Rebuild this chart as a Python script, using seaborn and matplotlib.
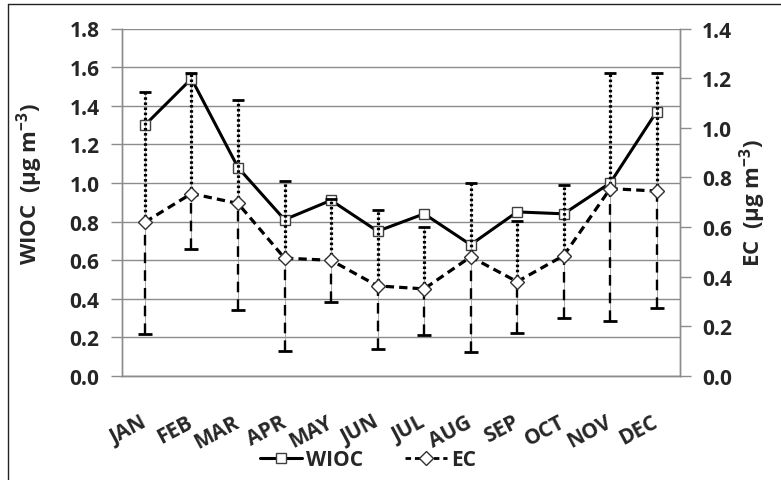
import numpy as np
import pandas as pd
import matplotlib
matplotlib.use("Agg")
import matplotlib.pyplot as plt
from matplotlib.lines import Line2D
import seaborn as sns

months = ["JAN", "FEB", "MAR", "APR", "MAY", "JUN", "JUL", "AUG", "SEP", "OCT", "NOV", "DEC"]
wioc = [1.30, 1.54, 1.08, 0.81, 0.91, 0.75, 0.84, 0.68, 0.85, 0.84, 1.00, 1.37]
ec = [0.62, 0.735, 0.695, 0.475, 0.466, 0.363, 0.351, 0.48, 0.38, 0.485, 0.755, 0.745]
ec_upper = [1.146, 1.220, 1.112, 0.784, 0.715, 0.668, 0.602, 0.779, 0.626, 0.771, 1.220, 1.220]
ec_lower = [0.170, 0.513, 0.264, 0.102, 0.299, 0.109, 0.166, 0.097, 0.174, 0.234, 0.223, 0.275]
left_ticks = [0.0, 0.2, 0.4, 0.6, 0.8, 1.0, 1.2, 1.4, 1.6, 1.8]
right_ticks = [0.0, 0.2, 0.4, 0.6, 0.8, 1.0, 1.2, 1.4]

sns.set_theme(style="white")
FAM = ["Open Sans", "DejaVu Sans"]
plt.rcParams["font.family"] = FAM
plt.rcParams["font.weight"] = "bold"
plt.rcParams["mathtext.fontset"] = "custom"
plt.rcParams["mathtext.rm"] = "Open Sans:bold"
plt.rcParams["mathtext.bf"] = "Open Sans:bold"
plt.rcParams["mathtext.it"] = "Open Sans:bold"

df = pd.DataFrame({"pos": np.arange(len(months)), "month": months, "WIOC": wioc, "EC": ec,
                   "up": ec_upper, "lo": ec_lower})

W, H = 781, 481
fig = plt.figure(figsize=(W / 100, H / 100), dpi=100)
ax1 = fig.add_axes([121.7 / W, 1 - 377 / H, (680 - 121.7) / W, (377 - 29.5) / H])
ax2 = ax1.twinx()

grid_c = "#8c8c8c"

# WIOC line
sns.lineplot(data=df, x="pos", y="WIOC", ax=ax1, color="black", linewidth=2.2,
             marker="s", markersize=6.5, markerfacecolor="white", markeredgecolor="#404040",
             markeredgewidth=1.0, zorder=5)

# EC error bars (upper dotted, lower dashed)
xs = df["pos"].to_numpy()
ecv = df["EC"].to_numpy()
ax2.vlines(xs, df["lo"], df["up"], color="#9a9a9a", linewidth=0.6, zorder=2)
up_err = np.vstack([np.zeros(len(xs)), df["up"].to_numpy() - ecv])
lo_err = np.vstack([ecv - df["lo"].to_numpy(), np.zeros(len(xs))])
eb1 = ax2.errorbar(xs, ecv, yerr=up_err, fmt="none", ecolor="black", elinewidth=2.3,
                   capsize=4, capthick=2.0, zorder=3)
eb1[1][0].set_visible(False)
eb1[2][0].set_linestyle((0, (0.8, 0.8)))
eb2 = ax2.errorbar(xs, ecv, yerr=lo_err, fmt="none", ecolor="black", elinewidth=1.7,
                   capsize=5, capthick=2.0, zorder=3)
eb2[1][1].set_visible(False)
eb2[2][0].set_linestyle((0, (4.5, 3)))

# EC line
sns.lineplot(data=df, x="pos", y="EC", ax=ax2, color="black", linewidth=2.3,
             linestyle=(0, (2.6, 1.6)), marker="D", markersize=7, markerfacecolor="white",
             markeredgecolor="#303030", markeredgewidth=1.0, zorder=6)

# axes styling
ax1.set_xlim(-0.5, len(months) - 0.5)
ax1.set_ylim(0, 1.8)
ax2.set_ylim(0, 1.4)
ax1.set_yticks(left_ticks)
ax1.set_yticklabels([f"{v:.1f}" for v in left_ticks], fontsize=15, fontweight="bold")
ax2.set_yticks(right_ticks)
ax2.set_yticklabels([f"{v:.1f}" for v in right_ticks], fontsize=15, fontweight="bold")
ax1.set_xticks(np.arange(-0.5, len(months), 1.0))
ax1.set_xticklabels([])
ax1.set_xticks(np.arange(len(months)), minor=True)
ax1.set_xticklabels(months, minor=True, rotation=28, ha="right", va="center",
                    rotation_mode="anchor", fontsize=15, fontweight="bold")
ax1.tick_params(axis="x", which="minor", length=0, pad=32)
ax1.tick_params(axis="x", which="major", length=8, width=1, color=grid_c, direction="out")
ax1.tick_params(axis="y", length=8, width=1, color=grid_c, direction="out", pad=8)
ax2.tick_params(axis="y", length=8, width=1, color=grid_c, direction="out", pad=8)
ax1.yaxis.grid(True, color=grid_c, linewidth=1)
ax1.xaxis.grid(False)
ax2.grid(False)
for ax in (ax1, ax2):
    ax.spines["top"].set_visible(False)
    for s in ("left", "right", "bottom"):
        ax.spines[s].set_color(grid_c)
        ax.spines[s].set_linewidth(1)
ax1.set_xlabel("")
ax1.set_ylabel(r"WIOC  (µg m$^{-3}$)", fontsize=16, fontweight="bold")
ax1.yaxis.set_label_coords(-0.137, 0.555)
ax2.set_ylabel(r"EC  (µg m$^{-3}$)", fontsize=16, fontweight="bold", rotation=90)
ax2.yaxis.set_label_coords(1.102, 0.5)
ax1.set_zorder(ax2.get_zorder() - 1)
ax2.patch.set_visible(False)

# legend
h1 = Line2D([], [], color="black", linewidth=2.2, marker="s", markersize=6.5,
            markerfacecolor="white", markeredgecolor="#404040", markeredgewidth=1.0)
h2 = Line2D([], [], color="black", linewidth=2.0, linestyle=(0, (2.0, 1.4)), marker="D",
            markersize=7, markerfacecolor="white", markeredgecolor="#303030",
            markeredgewidth=1.0)
fig.legend([h1, h2], ["WIOC", "EC"], loc="center", bbox_to_anchor=(368 / W, 1 - 461 / H),
           ncol=2, frameon=False, handlelength=2.0, handletextpad=0.2, columnspacing=2.0,
           prop={"size": 15, "weight": "bold"})

# chart frame (partially visible)
fig.add_artist(Line2D([8 / W, 1], [1 - 5 / H, 1 - 5 / H], transform=fig.transFigure,
                      color="#222222", linewidth=1))
fig.add_artist(Line2D([8 / W, 8 / W], [0, 1 - 5 / H], transform=fig.transFigure,
                      color="#222222", linewidth=1))

fig.savefig("out.png", dpi=100)
